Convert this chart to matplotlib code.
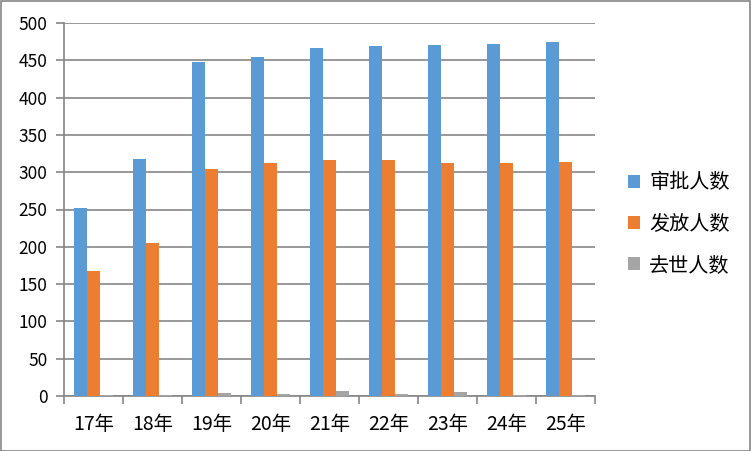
import numpy as np
import matplotlib
matplotlib.use('Agg')
import matplotlib.pyplot as plt
from matplotlib.ticker import MultipleLocator, FixedLocator

plt.rcParams['font.family'] = ['Noto Sans CJK SC', 'DejaVu Sans']

categories = ['17年', '18年', '19年', '20年', '21年', '22年', '23年', '24年', '25年']
approved = [252, 318, 448, 454, 466, 469, 471, 472, 475]
issued = [167, 205, 304, 312, 316, 316, 312, 312, 314]
deceased = [2, 2, 4, 3, 7, 3, 5, 2, 2]
series_names = ['审批人数', '发放人数', '去世人数']
colors = ['#5b9bd5', '#ed7d31', '#a5a5a5']

fig = plt.figure(figsize=(7.51, 4.51), dpi=100)
ax = fig.add_axes([64 / 751, 55 / 451, 531 / 751, 373 / 451])

x = np.arange(len(categories))
w = 0.216
for i, (vals, name, c) in enumerate(zip([approved, issued, deceased], series_names, colors)):
    ax.bar(x + (i - 1) * w, vals, width=w, color=c, label=name, zorder=3)

ax.set_xlim(-0.5, len(categories) - 0.5)
ax.set_ylim(0, 500)
ax.yaxis.set_major_locator(MultipleLocator(50))
ax.grid(axis='y', color='#868686', linewidth=1.2, zorder=0)

ax.set_xticks(x)
ax.set_xticklabels(categories, fontsize=14)
ax.xaxis.set_minor_locator(FixedLocator(np.arange(-0.5, len(categories), 1)))
ax.tick_params(axis='x', which='major', length=0, pad=13)
ax.tick_params(axis='x', which='minor', length=6, color='#868686', width=1.2)
ax.tick_params(axis='y', length=6, color='#868686', width=1.2, labelsize=12.5, pad=6)

for s in ['top', 'right']:
    ax.spines[s].set_visible(False)
for s in ['left', 'bottom']:
    ax.spines[s].set_color('#868686')
    ax.spines[s].set_linewidth(1.2)

fig.legend(loc='center left', bbox_to_anchor=(610 / 751, 1 - 224 / 451),
           frameon=False, fontsize=14.5, handlelength=0.6, handleheight=0.6,
           labelspacing=1.0, handletextpad=0.45)

fig.patches.append(plt.Rectangle((0.001, 0.001), 0.998, 0.997, transform=fig.transFigure,
                                 fill=False, edgecolor='#868686', linewidth=1.2))

fig.savefig('out.png', dpi=100)
